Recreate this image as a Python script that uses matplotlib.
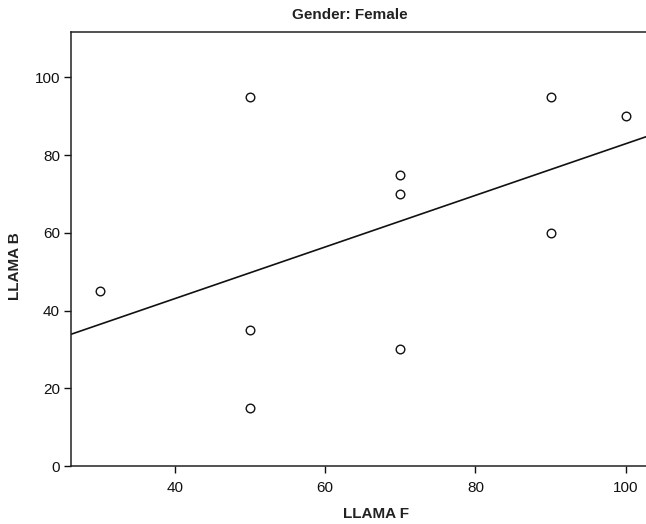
import numpy as np
import matplotlib
matplotlib.use("Agg")
import matplotlib.pyplot as plt

plt.rcParams['font.family'] = ['Liberation Sans', 'DejaVu Sans']

llama_f = [30, 50, 50, 50, 70, 70, 70, 90, 90, 100]
llama_b = [45, 95, 35, 15, 75, 70, 30, 95, 60, 90]
x_ticks = [40, 60, 80, 100]
y_ticks = [0, 20, 40, 60, 80, 100]
title = "Gender: Female"

W, H = 646, 524
fig = plt.figure(figsize=(W / 100, H / 100), dpi=100)
ax = fig.add_axes([71 / W, (H - 466) / H, (W - 71) / W, (466 - 32.3) / H])

xlim = (26.2, 102.7)
ylim = (0, 111.6)
ax.set_xlim(*xlim)
ax.set_ylim(*ylim)

x = np.array(llama_f, dtype=float)
y = np.array(llama_b, dtype=float)
slope, intercept = np.polyfit(x, y, 1)
xx = np.array(xlim)
ax.plot(xx, intercept + slope * xx, color='#111111', lw=1.2, zorder=2)

ax.plot(x, y, linestyle='none', marker='o', markersize=6.2,
        markerfacecolor='white', markeredgecolor='#111111', markeredgewidth=1.0, zorder=3)

ax.set_xticks(x_ticks)
ax.set_yticks(y_ticks)
ax.tick_params(direction='out', length=5, width=1, labelsize=11, colors='#111111')
ax.tick_params(axis='x', pad=6)
ax.tick_params(axis='y', pad=3)
for s in ['left', 'bottom', 'top']:
    ax.spines[s].set_linewidth(1.1)
    ax.spines[s].set_color('#222222')
ax.spines['right'].set_visible(False)

fig.text(349.5 / W, 1 - 15 / H, title, fontsize=11, fontweight='bold',
         color='#222222', ha='center', va='center')
fig.text(376 / W, 1 - 514 / H, "LLAMA F", fontsize=11, fontweight='bold',
         color='#222222', ha='center', va='center')
fig.text(15 / W, 1 - 266 / H, "LLAMA B", fontsize=11, fontweight='bold',
         color='#222222', ha='center', va='center', rotation=90)

fig.savefig("out.png", dpi=100)
